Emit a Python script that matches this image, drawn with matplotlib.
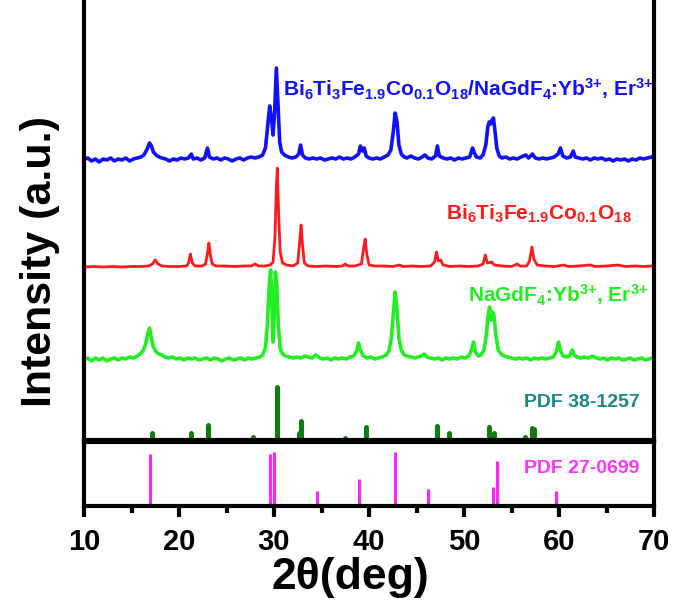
import matplotlib
matplotlib.use("Agg")
import matplotlib.pyplot as plt
import numpy as np

plt.rcParams["font.family"] = ["Liberation Sans", "DejaVu Sans"]
plt.rcParams["font.weight"] = "bold"
plt.rcParams["mathtext.fontset"] = "custom"
plt.rcParams["mathtext.rm"] = "Liberation Sans:bold"
plt.rcParams["mathtext.it"] = "Liberation Sans:bold"
plt.rcParams["mathtext.bf"] = "Liberation Sans:bold"

# composite Bi6Ti3Fe1.9Co0.1O18 / NaGdF4:Yb,Er (intensity above its own baseline)
blue_x = [10.0, 10.4, 10.8, 11.2, 11.6, 12.0, 12.4, 12.8, 13.2, 13.6, 14.0, 14.4, 14.8, 15.2, 15.6,
          16.0, 16.3, 16.6, 16.9, 17.1, 17.3, 17.6, 17.9, 18.2, 18.6, 19.0, 19.4, 19.8, 20.2, 20.6,
          21.0, 21.3, 21.5, 21.9, 22.3, 22.7, 23.0, 23.2, 23.6, 24.0, 24.4, 24.8, 25.2, 25.6, 26.0,
          26.4, 26.8, 27.2, 27.6, 28.0, 28.4, 28.8, 29.1, 29.35, 29.55, 29.75, 29.9, 30.05, 30.25,
          30.45, 30.6, 30.8, 31.1, 31.5, 31.9, 32.3, 32.6, 32.8, 33.0, 33.3, 33.7, 34.1, 34.5, 34.9,
          35.3, 35.7, 36.1, 36.5, 36.9, 37.3, 37.7, 38.1, 38.5, 38.9, 39.1, 39.3, 39.5, 39.7, 40.0,
          40.4, 40.8, 41.2, 41.6, 42.0, 42.3, 42.55, 42.75, 42.95, 43.15, 43.4, 43.7, 44.0, 44.4,
          44.8, 45.2, 45.6, 45.9, 46.2, 46.6, 47.0, 47.2, 47.4, 47.8, 48.2, 48.6, 49.0, 49.4, 49.8,
          50.2, 50.6, 50.9, 51.1, 51.3, 51.7, 52.0, 52.3, 52.5, 52.65, 52.8, 52.95, 53.1, 53.25,
          53.45, 53.7, 54.0, 54.4, 54.8, 55.2, 55.6, 56.0, 56.5, 56.8, 57.2, 57.5, 57.9, 58.3, 58.7,
          59.1, 59.5, 59.9, 60.15, 60.4, 60.8, 61.2, 61.5, 61.7, 62.1, 62.5, 62.9, 63.3, 63.7, 64.1,
          64.5, 64.9, 65.3, 65.7, 66.1, 66.5, 66.9, 67.3, 67.7, 68.1, 68.5, 68.9, 69.3, 69.8]
blue_y = [0, 2, -1, 1, -2, 1, 0, 2, -1, 1, 0, 2, -1, 1, 2,
          3, 5, 10, 17, 14, 8, 5, 3, 2, 1, -1, 1, 0, 2, 1,
          2, 6, 1, 2, 0, 2, 12, 3, 1, 2, 0, 2, 1, -1, 1,
          2, 0, 2, 3, 2, 3, 5, 12, 35, 54, 40, 25, 45, 92,
          50, 18, 8, 5, 3, 2, 3, 6, 15, 5, 2, 1, 2, 1, 2,
          0, 1, 2, 1, 3, 1, 2, 1, 3, 6, 14, 9, 12, 4, 2,
          1, 2, 1, 3, 5, 10, 28, 47, 38, 15, 6, 3, 2, 4,
          2, 1, 3, 5, 2, 1, 4, 14, 4, 2, 1, 2, 0, 2, 1,
          2, 3, 12, 7, 3, 2, 5, 15, 33, 38, 36, 40, 42, 30,
          12, 4, 2, 3, 1, 2, 1, 3, 5, 2, 6, 2, 1, 2, 1,
          2, 3, 6, 12, 4, 2, 3, 9, 3, 2, 1, 2, 0, 2, 1,
          2, 0, 1, -1, 1, 0, 1, -1, 1, 0, 2, 1, 2, 3]

# Bi6Ti3Fe1.9Co0.1O18
red_x = [10.0, 11.0, 12.0, 13.0, 14.0, 15.0, 16.0, 16.8, 17.2, 17.5, 17.8, 18.2, 19.0, 20.0, 20.8,
         21.0, 21.2, 21.4, 21.7, 22.4, 22.8, 23.0, 23.15, 23.3, 23.5, 23.9, 24.8, 25.8, 26.8, 27.6,
         28.0, 28.4, 29.0, 29.6, 29.9, 30.1, 30.25, 30.35, 30.5, 30.65, 30.9, 31.3, 32.0, 32.5,
         32.7, 32.85, 33.0, 33.2, 33.6, 34.5, 35.5, 36.5, 37.2, 37.5, 37.8, 38.5, 39.2, 39.45,
         39.6, 39.75, 40.0, 40.6, 41.5, 42.5, 43.2, 43.6, 44.5, 45.5, 46.5, 46.9, 47.1, 47.3,
         47.55, 47.8, 48.5, 49.5, 50.5, 51.5, 52.0, 52.25, 52.45, 52.9, 53.2, 54.0, 55.0, 55.6,
         55.9, 56.6, 56.9, 57.15, 57.35, 57.7, 58.5, 59.5, 60.5, 61.0, 62.0, 63.3, 63.8, 65.0,
         66.2, 67.0, 68.0, 69.0, 69.8]
red_y = [0, 0.5, 0, 0.5, 0, 0.5, 0.5, 1, 3, 7, 3, 1, 0.5, 0.5, 1,
         4, 13, 4, 1, 1, 3, 14, 24, 12, 3, 1, 1, 0.5, 1, 1,
         3, 1, 1, 2, 5, 30, 80, 99, 50, 15, 4, 2, 1, 4,
         25, 42, 22, 4, 1, 0.5, 1, 0.5, 1, 3, 1, 1, 3, 20,
         28, 14, 2, 1, 1, 0.5, 2, 0.5, 1, 0.5, 1, 5, 15, 6,
         7, 2, 0.5, 1, 0.5, 1, 3, 12, 4, 5, 2, 1, 0.5, 3,
         1, 1, 6, 20, 8, 2, 1, 0.5, 2, 0.5, 1, 2, 0.5, 1,
         2, 0.5, 1, 0.5, 1]

# NaGdF4:Yb3+, Er3+
green_x = [10.0, 10.4, 10.8, 11.2, 11.6, 12.0, 12.4, 12.8, 13.2, 13.6, 14.0, 14.4, 14.8, 15.2, 15.6,
           15.9, 16.2, 16.5, 16.7, 16.9, 17.1, 17.3, 17.6, 17.9, 18.2, 18.5, 18.9, 19.3, 19.7, 20.1,
           20.5, 20.9, 21.3, 21.7, 22.1, 22.5, 22.9, 23.3, 23.7, 24.1, 24.5, 24.9, 25.3, 25.7, 26.1,
           26.5, 26.9, 27.3, 27.7, 28.1, 28.5, 28.8, 29.1, 29.3, 29.5, 29.65, 29.8, 29.9, 30.0,
           30.15, 30.3, 30.45, 30.65, 30.9, 31.2, 31.6, 32.0, 32.4, 32.8, 33.2, 33.6, 34.0, 34.4,
           34.8, 35.2, 35.6, 36.0, 36.4, 36.8, 37.2, 37.6, 38.0, 38.4, 38.7, 38.9, 39.1, 39.4, 39.8,
           40.2, 40.6, 41.0, 41.4, 41.8, 42.1, 42.35, 42.55, 42.75, 42.95, 43.15, 43.4, 43.7, 44.0,
           44.4, 44.8, 45.2, 45.5, 45.8, 46.1, 46.5, 46.9, 47.3, 47.7, 48.1, 48.5, 48.9, 49.3, 49.7,
           50.1, 50.5, 50.8, 51.0, 51.2, 51.5, 51.8, 52.1, 52.35, 52.55, 52.7, 52.85, 53.0, 53.15,
           53.35, 53.6, 53.9, 54.2, 54.6, 55.0, 55.4, 55.8, 56.2, 56.6, 57.0, 57.4, 57.8, 58.2, 58.6,
           59.0, 59.4, 59.7, 59.95, 60.15, 60.4, 60.8, 61.1, 61.4, 61.6, 61.9, 62.3, 62.7, 63.1,
           63.5, 63.9, 64.3, 64.7, 65.1, 65.5, 65.9, 66.3, 66.7, 67.1, 67.5, 67.9, 68.3, 68.7, 69.1,
           69.8]
green_y = [0, 2, -1, 2, 0, 2, -1, 1, 2, 0, 2, 1, 3, 2, 4,
           6, 9, 16, 26, 32, 22, 13, 8, 6, 5, 3, 2, 3, 1, 2,
           0, 2, 1, 2, 0, 1, 2, 0, 2, 1, -1, 1, 2, 0, 1,
           2, 0, 2, 1, 2, 3, 5, 12, 35, 75, 90, 50, 18, 40,
           88, 75, 35, 12, 6, 4, 3, 2, 3, 2, 4, 3, 2, 5,
           2, 1, 2, 0, 2, 1, 2, 1, 3, 4, 9, 17, 10, 4, 2,
           3, 1, 2, 3, 5, 9, 22, 45, 68, 50, 22, 10, 5, 4,
           3, 2, 3, 4, 6, 3, 2, 1, 2, 0, 2, 1, 2, 1, 3,
           2, 4, 10, 18, 8, 4, 5, 10, 25, 45, 53, 40, 48, 45,
           25, 10, 6, 4, 3, 2, 1, 2, 1, 2, 0, 2, 1, 2, 1,
           2, 3, 8, 18, 10, 4, 3, 4, 10, 5, 3, 2, 3, 2,
           4, 2, 1, 2, 0, 2, 1, 2, 0, 1, 2, 0, 1, 2, 0,
           2]

# reference patterns
pdf38_pos = [17.2, 21.3, 23.0, 27.8, 30.3, 32.6, 32.8, 37.5, 39.7, 47.2, 48.4, 52.6, 53.2, 56.4, 57.2, 57.4]
pdf38_int = [7, 7, 15, 3, 53, 7, 19, 2, 13, 14, 7, 13, 7, 3, 12, 11]
pdf27_pos = [16.9, 29.6, 30.0, 34.5, 38.9, 42.7, 46.2, 53.0, 53.5, 59.7]
pdf27_int = [52, 52, 54, 15, 27, 54, 17, 19, 45, 15]

offsets = {"blue": 280, "red": 173, "green": 80}

W, H = 686, 605
fig = plt.figure(figsize=(W / 100, H / 100), dpi=100)
left, right = 84 / W, 654 / W
ax = fig.add_axes([left, 1 - 440 / H, right - left, 440 / H])
ax2 = fig.add_axes([left, 1 - 506 / H, right - left, (506 - 442) / H])

ax.plot(blue_x, np.array(blue_y) + offsets["blue"], color="#1010ff", lw=2.6)
ax.plot(red_x, np.array(red_y) + offsets["red"], color="#ff1a1a", lw=2.0)
ax.plot(green_x, np.array(green_y) + offsets["green"], color="#22ee22", lw=2.6)
ax.vlines(pdf38_pos, 0, pdf38_int, color="#0b7f0b", lw=3.6, capstyle="round")
ax2.vlines(pdf27_pos, 0, pdf27_int, color="#ff22ff", lw=2.2)

ax.set_xlim(10, 70)
ax.set_ylim(0, 440)
ax2.set_xlim(10, 70)
ax2.set_ylim(0, 64)

for a in (ax, ax2):
    for s in a.spines.values():
        s.set_linewidth(3)
    a.set_yticks([])
ax.spines["top"].set_visible(False)
ax.set_xticks([])
ax2.set_xticks(range(10, 71, 10))
ax2.set_xticks(range(15, 70, 10), minor=True)
ax2.tick_params(axis="x", which="major", direction="out", length=8, width=3, labelsize=21, pad=8)
ax2.tick_params(axis="x", which="minor", direction="out", length=5, width=3)
for lab in ax2.get_xticklabels():
    lab.set_fontweight("bold")

sup = r"^{3{+}}"
ax.text(69.98, 343, r"Bi$_6$Ti$_3$Fe$_{1.9}$Co$_{0.1}$O$_{18}$/NaGdF$_4$:Yb$" + sup + r"$, Er$" + sup + "$",
        color="#1010ff", fontsize=15, fontweight="bold", ha="right", va="baseline")
ax.text(67.66, 220, r"Bi$_6$Ti$_3$Fe$_{1.9}$Co$_{0.1}$O$_{18}$",
        color="#ff1a1a", fontsize=15, fontweight="bold", ha="right", va="baseline")
ax.text(69.45, 138, r"NaGdF$_4$:Yb$" + sup + r"$, Er$" + sup + "$",
        color="#22ee22", fontsize=15, fontweight="bold", ha="right", va="baseline")
ax.text(68.5, 33, "PDF 38-1257", color="#1a8888", fontsize=14, fontweight="bold",
        ha="right", va="baseline")
ax2.text(68.5, 33, "PDF 27-0699", color="#ff33ff", fontsize=14, fontweight="bold",
         ha="right", va="baseline")

fig.text(40 / W, 1 - 261 / H, "Intensity (a.u.)", rotation=90, fontsize=31,
         fontweight="bold", ha="center", va="center")
fig.text(350 / W, 1 - 578 / H, "2θ(deg)", fontsize=32, fontweight="bold",
         ha="center", va="center")

fig.savefig("out.png", dpi=100)
